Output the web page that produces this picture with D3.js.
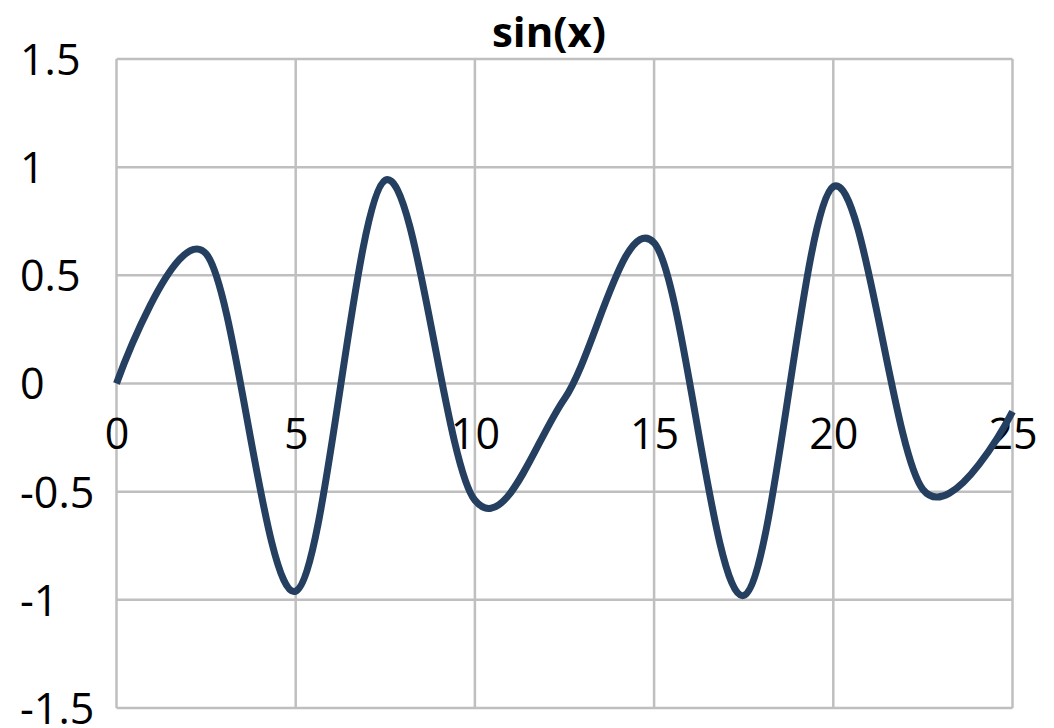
<!DOCTYPE html>
<html>
<head>
<meta charset="utf-8">
<script src="https://cdn.jsdelivr.net/npm/d3@7"></script>
<style>
  html, body { margin: 0; padding: 0; background: #fff; }
  svg { display: block; }
</style>
</head>
<body>
<svg id="chart" width="1054" height="728"></svg>
<script>
// values (samples every 2.5, line smoothed)
const xValues = [0, 2.5, 5, 7.5, 10, 12.5, 15, 17.5, 20, 22.5, 25];
const yValues = [0, 0.6, -0.96, 0.94, -0.54, -0.07, 0.65, -0.98, 0.91, -0.49, -0.13];
const xTicks = [0, 5, 10, 15, 20, 25];
const yTicks = [-1.5, -1, -0.5, 0, 0.5, 1, 1.5];
const title = "sin(x)";

const points = xValues.map((x, i) => ({ x: x, y: yValues[i] }));

const svg = d3.select("#chart");
const plotLeft = 116.5, plotRight = 1012.5, plotTop = 59, plotBottom = 708;

const x = d3.scaleLinear().domain([0, 25]).range([plotLeft, plotRight]);
const y = d3.scaleLinear().domain([-1.5, 1.5]).range([plotBottom, plotTop]);

const font = "'Open Sans', sans-serif";
const gridColor = "#bfbfbf";

// grid
svg.append("g")
  .selectAll("line")
  .data(yTicks)
  .join("line")
  .attr("x1", plotLeft).attr("x2", plotRight)
  .attr("y1", d => y(d)).attr("y2", d => y(d))
  .attr("stroke", gridColor)
  .attr("stroke-width", 2.5);

svg.append("g")
  .selectAll("line")
  .data(xTicks)
  .join("line")
  .attr("x1", d => x(d)).attr("x2", d => x(d))
  .attr("y1", plotTop).attr("y2", plotBottom)
  .attr("stroke", gridColor)
  .attr("stroke-width", 2.5);

// y axis labels (left aligned like the original, plain hyphen minus)
const yAxis = svg.append("g")
  .attr("transform", `translate(${plotLeft},0)`)
  .call(d3.axisLeft(y).tickValues(yTicks).tickSize(0).tickFormat(d => String(d)));
yAxis.select(".domain").remove();
yAxis.selectAll("text")
  .attr("x", 20 - plotLeft)
  .attr("dy", "0.36em")
  .attr("text-anchor", "start")
  .style("font-family", font)
  .style("font-size", "43px")
  .style("fill", "#000");

// x axis labels sit below the zero line
const xAxis = svg.append("g")
  .attr("transform", `translate(0,${y(0)})`)
  .call(d3.axisBottom(x).tickValues(xTicks).tickSize(0).tickFormat(d => String(d)));
xAxis.select(".domain").remove();
xAxis.selectAll("text")
  .attr("y", 65)
  .attr("dy", 0)
  .style("font-family", font)
  .style("font-size", "43px")
  .style("fill", "#000");

// the smoothed line
const line = d3.line()
  .x(d => x(d.x))
  .y(d => y(d.y))
  .curve(d3.curveCardinal.tension(0));

svg.append("path")
  .datum(points)
  .attr("d", line)
  .attr("fill", "none")
  .attr("stroke", "#243f60")
  .attr("stroke-width", 7)
  .attr("stroke-linejoin", "round");

// title
svg.append("text")
  .attr("x", 549)
  .attr("y", 47)
  .attr("text-anchor", "middle")
  .style("font-family", font)
  .style("font-weight", 700)
  .style("font-size", "42px")
  .style("fill", "#000")
  .text(title);
</script>
</body>
</html>
